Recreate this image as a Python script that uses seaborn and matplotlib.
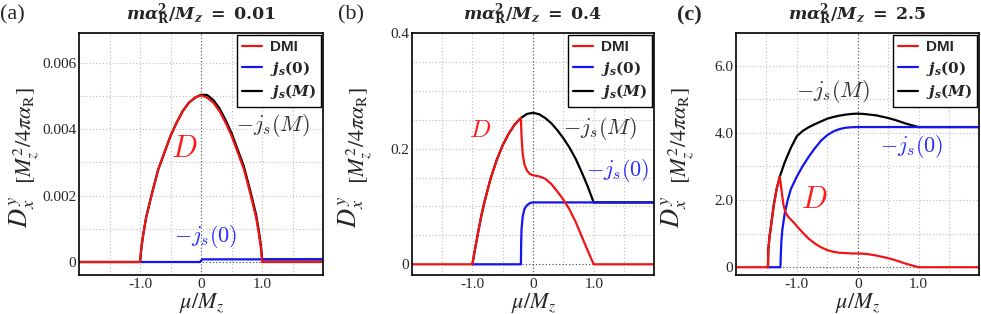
import numpy as np
import pandas as pd
import matplotlib
matplotlib.use("Agg")
import matplotlib.pyplot as plt
import seaborn as sns

# ---- panel (a): m alpha_R^2 / M_z = 0.01 ----
MU_A = [-2.0, -1.0, -0.98, -0.95, -0.9, -0.8, -0.7, -0.6, -0.5, -0.4, -0.3, -0.2, -0.1, 0.0,
        0.1, 0.2, 0.3, 0.4, 0.5, 0.6, 0.7, 0.8, 0.9, 0.95, 0.98, 1.0, 2.0]
DMI_A = [0, 0, 0.0004, 0.0008, 0.00135, 0.0021, 0.0028, 0.0033, 0.0038, 0.0042, 0.00455, 0.0048,
         0.00495, 0.00502, 0.00495, 0.0048, 0.00455, 0.0042, 0.0038, 0.0033, 0.0028, 0.0021,
         0.00135, 0.0008, 0.0004, 0, 0]
JSM_A = [0, 0, 0.0004, 0.0008, 0.00135, 0.0021, 0.0028, 0.0033, 0.0038, 0.0042, 0.00455, 0.0048,
         0.00495, 0.00504, 0.00503, 0.00488, 0.00463, 0.00428, 0.00388, 0.00338, 0.00288, 0.00218,
         0.00143, 0.00088, 0.00048, 0.00008, 0.00008]
MU_A0 = [-1.0, -0.02, 0.02, 2.0]
JS0_A = [0, 0, 0.00008, 0.00008]

# ---- panel (b): m alpha_R^2 / M_z = 0.4 ----
MU_B = [-2.0, -1.0, -0.95, -0.9, -0.85, -0.8, -0.7, -0.6, -0.5, -0.4, -0.3, -0.2, -0.19, -0.17,
        -0.14, -0.1, -0.05, 0.0, 0.1, 0.2, 0.3, 0.4, 0.5, 0.6, 0.7, 0.8, 0.9, 1.0, 2.0]
DMI_B = [0, 0, 0.03, 0.058, 0.085, 0.108, 0.148, 0.18, 0.206, 0.226, 0.242, 0.253, 0.222, 0.19,
         0.172, 0.162, 0.156, 0.154, 0.152, 0.148, 0.139, 0.126, 0.112, 0.095, 0.074, 0.049,
         0.024, 0, 0]
MU_BM = [-1.0, -0.95, -0.9, -0.85, -0.8, -0.7, -0.6, -0.5, -0.4, -0.3, -0.2, -0.1, 0.0, 0.1,
         0.2, 0.3, 0.4, 0.5, 0.6, 0.7, 0.8, 0.9, 1.0, 2.0]
JSM_B = [0, 0.03, 0.058, 0.085, 0.108, 0.148, 0.18, 0.206, 0.226, 0.242, 0.253, 0.26, 0.262,
         0.2595, 0.253, 0.244, 0.232, 0.218, 0.202, 0.183, 0.16, 0.135, 0.107, 0.107]
MU_B0 = [-1.0, -0.2, -0.195, -0.19, -0.17, -0.14, -0.1, -0.05, 0.0, 2.0]
JS0_B = [0, 0, 0.04, 0.06, 0.083, 0.096, 0.102, 0.106, 0.107, 0.107]

# ---- panel (c): m alpha_R^2 / M_z = 2.5 ----
MU_C = [-2.0, -1.475, -1.47, -1.45, -1.42, -1.38, -1.33, -1.28, -1.25, -1.22, -1.19, -1.15,
        -1.1, -1.05, -1.0, -0.9, -0.8, -0.7, -0.6, -0.5, -0.4, -0.3, -0.2, -0.1, 0.0, 0.1,
        0.2, 0.3, 0.4, 0.5, 0.6, 0.7, 0.8, 0.9, 1.0, 2.0]
DMI_C = [0, 0, 0.5, 0.9, 1.3, 1.85, 2.35, 2.7, 2.25, 1.85, 1.65, 1.52, 1.42, 1.33, 1.22, 1.02,
         0.84, 0.7, 0.59, 0.51, 0.46, 0.43, 0.42, 0.41, 0.41, 0.4, 0.38, 0.35, 0.31, 0.27, 0.22,
         0.16, 0.1, 0.05, 0, 0]
MU_CM = [-1.475, -1.47, -1.45, -1.42, -1.38, -1.33, -1.28, -1.2, -1.1, -1.0, -0.9, -0.8, -0.7,
         -0.6, -0.5, -0.4, -0.3, -0.2, -0.1, 0.0, 0.1, 0.2, 0.3, 0.4, 0.5, 0.6, 0.7, 0.8, 0.9,
         1.0, 2.0]
JSM_C = [0, 0.5, 0.9, 1.3, 1.85, 2.35, 2.7, 3.12, 3.55, 3.9, 4.06, 4.17, 4.26, 4.34, 4.42, 4.47,
         4.51, 4.54, 4.56, 4.57, 4.56, 4.54, 4.52, 4.48, 4.44, 4.39, 4.33, 4.27, 4.22, 4.17, 4.17]
MU_C0 = [-1.475, -1.27, -1.265, -1.255, -1.24, -1.2, -1.15, -1.1, -1.0, -0.9, -0.8, -0.7, -0.6,
         -0.5, -0.4, -0.3, -0.2, -0.1, 0.0, 2.0]
JS0_C = [0, 0, 0.35, 0.75, 1.1, 1.6, 2.0, 2.32, 2.7, 3.02, 3.3, 3.55, 3.77, 3.93, 4.04, 4.11,
         4.15, 4.165, 4.17, 4.17]

TITLES = ['0.01', '0.4', '2.5']
PANEL_TAGS = ['(a)', '(b)', '(c)']
X_TICKS = [-1.5, -1.0, -0.5, 0.0, 0.5, 1.0, 1.5]
X_TICKLABELS = ['', '-1.0', '', '0', '', '1.0', '']
Y_TICKS = [[0, 0.001, 0.002, 0.003, 0.004, 0.005, 0.006],
           [0, 0.05, 0.1, 0.15, 0.2, 0.25, 0.3, 0.35, 0.4],
           [0, 1, 2, 3, 4, 5, 6]]
Y_TICKLABELS = [['0', '', '0.002', '', '0.004', '', '0.006'],
                ['0', '', '', '', '0.2', '', '', '', '0.4'],
                ['0', '', '2.0', '', '4.0', '', '6.0']]
Y_LIMS = [(-0.0004, 0.0069), (-0.019, 0.4), (-0.24, 6.97)]

RED, BLUE, BLACK = '#f01414', '#1414f0', '#000000'

sns.set_style('white')
plt.rcParams['font.family'] = ['Liberation Serif', 'DejaVu Serif']
plt.rcParams['mathtext.fontset'] = 'stix'

fig = plt.figure(figsize=(9.81, 3.14), dpi=100)
lefts = [0.0805, 0.4197, 0.7503]
widths = [0.249, 0.2473, 0.248]
d_pos = [-0.232, -0.247, -0.255]
br_pos = [-0.214, -0.213, -0.222]

panels = [
    (MU_A, DMI_A, MU_A0, JS0_A, MU_A, JSM_A),
    (MU_B, DMI_B, MU_B0, JS0_B, MU_BM, JSM_B),
    (MU_C, DMI_C, MU_C0, JS0_C, MU_CM, JSM_C),
]

for i, (mu_d, dmi, mu_0, js0, mu_m, jsm) in enumerate(panels):
    ax = fig.add_axes([lefts[i], 0.1233, widths[i], 0.7717])

    # grid + dark zero lines
    for xv in X_TICKS:
        ax.axvline(xv, color='#bdbdbd', lw=0.8, ls=(0, (1, 2)), zorder=0)
    for yv in Y_TICKS[i]:
        ax.axhline(yv, color='#bdbdbd', lw=0.8, ls=(0, (1, 2)), zorder=0)
    ax.axvline(0, color='#555555', lw=0.8, ls=(0, (1, 2)), zorder=0)
    ax.axhline(0, color='#555555', lw=0.8, ls=(0, (1, 2)), zorder=0)

    sns.lineplot(x=mu_m, y=jsm, ax=ax, color=BLACK, lw=1.6, estimator=None, sort=False,
                 label=r'$\mathbfit{j_s}\mathbf{(}\mathbfit{M}\mathbf{)}$')
    sns.lineplot(x=mu_0, y=js0, ax=ax, color=BLUE, lw=1.6, estimator=None, sort=False,
                 label=r'$\mathbfit{j_s}\mathbf{(0)}$')
    sns.lineplot(x=mu_d, y=dmi, ax=ax, color=RED, lw=1.6, estimator=None, sort=False,
                 label='DMI')

    ax.set_xlim(-2, 2)
    ax.set_ylim(*Y_LIMS[i])
    ax.set_xticks(X_TICKS)
    ax.set_xticklabels(X_TICKLABELS)
    ax.set_yticks(Y_TICKS[i])
    ax.set_yticklabels(Y_TICKLABELS[i])
    ax.tick_params(direction='in', length=3, width=0.8, labelsize=11, pad=2)
    ax.set_xlabel('')
    ax.set_ylabel('')
    for sp in ax.spines.values():
        sp.set_color('black')
        sp.set_linewidth(1.2)

    handles, labels = ax.get_legend_handles_labels()
    order = [2, 1, 0]
    leg = ax.legend([handles[k] for k in order], [labels[k] for k in order],
                    loc='upper right', fontsize=11, frameon=True, fancybox=False,
                    edgecolor='black', framealpha=1, borderaxespad=0.12, borderpad=0.35,
                    labelspacing=0.3, handlelength=1.3, handletextpad=0.5)
    leg.get_frame().set_linewidth(1.0)
    for t in leg.get_texts():
        t.set_math_fontfamily('dejavuserif')
    leg.get_texts()[0].set_fontfamily('Liberation Sans')
    leg.get_texts()[0].set_fontweight('bold')

    # axis labels
    ax.text(d_pos[i], 0.26, r'$D_x^y$', rotation=90, transform=ax.transAxes,
            ha='center', va='center', fontsize=19)
    ax.text(br_pos[i], 0.575, r'$[M_z^2/4\pi\alpha_{\mathrm{R}}]$', rotation=90,
            transform=ax.transAxes, ha='center', va='center', fontsize=16)
    ax.text(0.5, -0.116, r'$\mu/M_z$', transform=ax.transAxes, ha='center', va='center',
            fontsize=16)

    ax.text(0.5, 1.074,
            r'$\mathbfit{m\alpha}_{\mathbf{R}}^{\mathbf{2}}\mathbf{/}\mathbfit{M}_{\mathbfit{z}}'
            r'\mathbf{\ =\ ' + TITLES[i] + r'}$',
            transform=ax.transAxes, ha='center', va='center', fontsize=12.5,
            math_fontfamily='dejavuserif')

fig.text(0.0, 1 - 15 / 314, PANEL_TAGS[0], ha='left', va='center', fontsize=16)
fig.text(338 / 981, 1 - 15 / 314, PANEL_TAGS[1], ha='left', va='center', fontsize=16)
fig.text(677 / 981, 1 - 15 / 314, PANEL_TAGS[2], ha='left', va='center', fontsize=16,
         fontweight='bold')

axes = fig.axes
# curve annotations
axes[0].text(-0.28, 0.0034, r'$D$', color='#ff1a1a', fontsize=22, ha='center', va='center',
             math_fontfamily='cm')
axes[0].text(1.17, 0.0041, r'$-j_s(M)$', color='#333333', fontsize=16, ha='center',
             va='center', math_fontfamily='cm')
axes[0].text(0.08, 0.00078, r'$-j_s(0)$', color='#2a2aff', fontsize=16, ha='center',
             va='center', math_fontfamily='cm')

axes[1].text(-0.88, 0.231, r'$D$', color='#ff1a1a', fontsize=18, ha='center', va='center',
             math_fontfamily='cm')
axes[1].text(1.1, 0.234, r'$-j_s(M)$', color='#333333', fontsize=16, ha='center',
             va='center', math_fontfamily='cm')
axes[1].text(1.4, 0.163, r'$-j_s(0)$', color='#2a2aff', fontsize=16, ha='center',
             va='center', math_fontfamily='cm')

axes[2].text(-0.72, 2.0, r'$D$', color='#ff1a1a', fontsize=22, ha='center', va='center',
             math_fontfamily='cm')
axes[2].text(-0.41, 5.24, r'$-j_s(M)$', color='#333333', fontsize=16, ha='center',
             va='center', math_fontfamily='cm')
axes[2].text(0.88, 3.6, r'$-j_s(0)$', color='#2a2aff', fontsize=16, ha='center',
             va='center', math_fontfamily='cm')

fig.savefig('out.png', dpi=100)
